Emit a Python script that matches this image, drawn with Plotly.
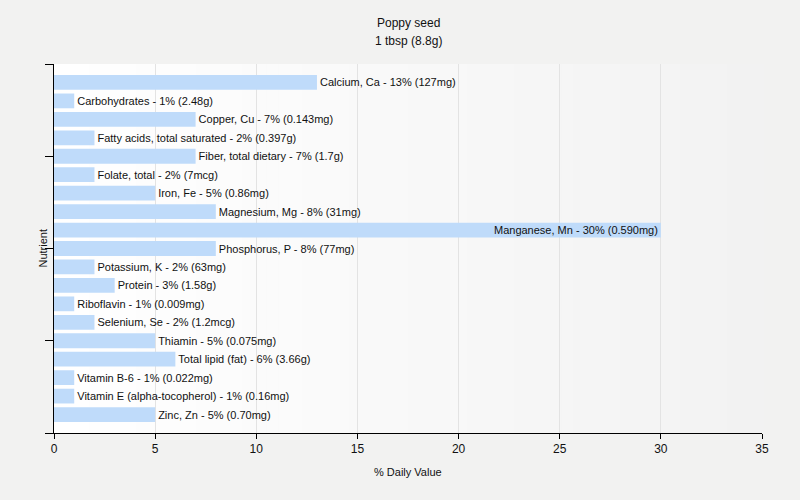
import plotly.graph_objects as go

nutrients = [
    "Calcium, Ca", "Carbohydrates", "Copper, Cu", "Fatty acids, total saturated",
    "Fiber, total dietary", "Folate, total", "Iron, Fe", "Magnesium, Mg",
    "Manganese, Mn", "Phosphorus, P", "Potassium, K", "Protein", "Riboflavin",
    "Selenium, Se", "Thiamin", "Total lipid (fat)", "Vitamin B-6",
    "Vitamin E (alpha-tocopherol)", "Zinc, Zn",
]
daily_pct = [13, 1, 7, 2, 7, 2, 5, 8, 30, 8, 2, 3, 1, 2, 5, 6, 1, 1, 5]
amounts = [
    "127mg", "2.48g", "0.143mg", "0.397g", "1.7g", "7mcg", "0.86mg", "31mg",
    "0.590mg", "77mg", "63mg", "1.58g", "0.009mg", "1.2mcg", "0.075mg",
    "3.66g", "0.022mg", "0.16mg", "0.70mg",
]

labels = [f"{n} - {p}% ({a})" for n, p, a in zip(nutrients, daily_pct, amounts)]
positions = ["inside" if p >= 20 else "outside" for p in daily_pct]

font = "Liberation Sans"
bar_color = "#bfdbfa"

fig = go.Figure(
    go.Bar(
        x=daily_pct,
        y=list(range(len(nutrients))),
        orientation="h",
        text=labels,
        textposition=positions,
        insidetextanchor="end",
        textfont=dict(family=font, size=11, color="#111111"),
        marker=dict(color=bar_color, line=dict(width=0)),
        cliponaxis=False,
        hoverinfo="text",
    )
)

# soft white -> grey gradient behind the plot area
n_strips = 60
shapes = []
for i in range(n_strips):
    c = int(round(255 - (255 - 242) * i / (n_strips - 1)))
    shapes.append(dict(
        type="rect", xref="x domain", yref="y domain",
        x0=i / n_strips, x1=(i + 1) / n_strips + 0.002, y0=0, y1=1,
        fillcolor=f"rgb({c},{c},{c})", line=dict(width=0), layer="below",
    ))

fig.update_layout(
    width=800,
    height=500,
    margin=dict(l=54, r=38, t=64, b=67),
    paper_bgcolor="#f2f2f1",
    plot_bgcolor="rgba(0,0,0,0)",
    font=dict(family=font, size=12, color="#111111"),
    bargap=0.2,
    uniformtext=dict(minsize=11, mode="show"),
    showlegend=False,
    shapes=shapes,
    annotations=[
        dict(text="Poppy seed", xref="paper", yref="paper", x=0.5, y=1,
             yshift=50, showarrow=False, font=dict(size=12)),
        dict(text="1 tbsp (8.8g)", xref="paper", yref="paper", x=0.5, y=1,
             yshift=32, showarrow=False, font=dict(size=12)),
        dict(text="Nutrient", xref="paper", yref="paper", x=0, y=0.5,
             xanchor="center", yanchor="middle", xshift=-12, textangle=-90,
             showarrow=False, font=dict(size=11)),
        dict(text="% Daily Value", xref="paper", yref="paper", x=0.5, y=0,
             yshift=-47, showarrow=False, font=dict(size=11)),
    ],
)

fig.update_xaxes(
    range=[0, 35],
    dtick=5,
    showgrid=True,
    gridcolor="#e3e3e3",
    gridwidth=1,
    zeroline=False,
    showline=True,
    linecolor="#000000",
    linewidth=1,
    ticks="outside",
    ticklen=5,
    tickcolor="#000000",
    tickfont=dict(size=12),
)
fig.update_yaxes(
    range=[len(nutrients), -1],
    tick0=-1,
    dtick=5,
    showticklabels=False,
    showgrid=False,
    zeroline=False,
    showline=True,
    linecolor="#000000",
    linewidth=1,
    ticks="outside",
    ticklen=8,
    tickcolor="#000000",
)

fig.write_html(
    "out.html",
    config={"displayModeBar": False},
    post_script="document.body.style.margin='0';"
                "document.body.style.background='#f2f2f1';",
)
